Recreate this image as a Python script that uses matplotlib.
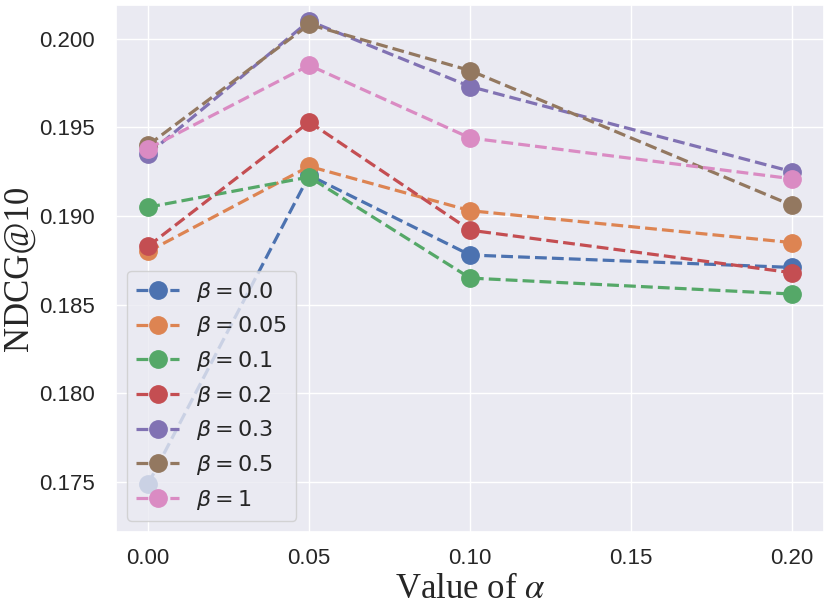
import matplotlib
matplotlib.use("Agg")
import matplotlib.pyplot as plt
import seaborn as sns

alphas = [0.0, 0.05, 0.10, 0.20]
beta_labels = [r"$\beta=0.0$", r"$\beta=0.05$", r"$\beta=0.1$", r"$\beta=0.2$",
               r"$\beta=0.3$", r"$\beta=0.5$", r"$\beta=1$"]
ndcg_b00 = [0.1749, 0.1923, 0.1878, 0.1871]
ndcg_b005 = [0.1880, 0.1928, 0.1903, 0.1885]
ndcg_b01 = [0.1905, 0.1922, 0.1865, 0.1856]
ndcg_b02 = [0.1883, 0.1953, 0.1892, 0.1868]
ndcg_b03 = [0.1935, 0.2010, 0.1973, 0.1925]
ndcg_b05 = [0.1940, 0.2008, 0.1982, 0.1906]
ndcg_b1 = [0.1938, 0.1985, 0.1944, 0.1921]
series = [ndcg_b00, ndcg_b005, ndcg_b01, ndcg_b02, ndcg_b03, ndcg_b05, ndcg_b1]
xticks = [0.00, 0.05, 0.10, 0.15, 0.20]
yticks = [0.175, 0.180, 0.185, 0.190, 0.195, 0.200]

sns.set_theme(style="darkgrid")
plt.rcParams['font.family'] = ['Liberation Sans', 'DejaVu Sans']
colors = sns.color_palette("deep")

fig = plt.figure(figsize=(8.31, 6.09), dpi=100)
ax = fig.add_axes([0.1396, 0.127, 0.8524, 0.8648])

for vals, lab, c in zip(series, beta_labels, colors):
    ax.plot(alphas, vals, linestyle="--", marker="o", color=c, lw=2.3,
            markersize=12.5, label=lab)

ax.set_xlim(-0.01, 0.21)
ax.set_ylim(0.1722, 0.2019)
ax.set_xticks(xticks)
ax.set_xticklabels([f"{v:.2f}" for v in xticks], fontsize=16)
ax.set_yticks(yticks)
ax.set_yticklabels([f"{v:.3f}" for v in yticks], fontsize=16)
ax.tick_params(axis="y", length=0, pad=15)
ax.tick_params(axis="x", length=0, pad=12)

ax.set_xlabel(r"Value of $\alpha$", fontsize=25, family="Liberation Serif",
              math_fontfamily="stix", labelpad=3)
ax.set_ylabel("NDCG@10", fontsize=25, family="Liberation Serif", labelpad=3)

leg = ax.legend(loc="lower left", fontsize=16, handlelength=1.95,
                labelspacing=0.48, borderaxespad=0.5, handletextpad=0.75)

fig.savefig("out.png", dpi=100)
